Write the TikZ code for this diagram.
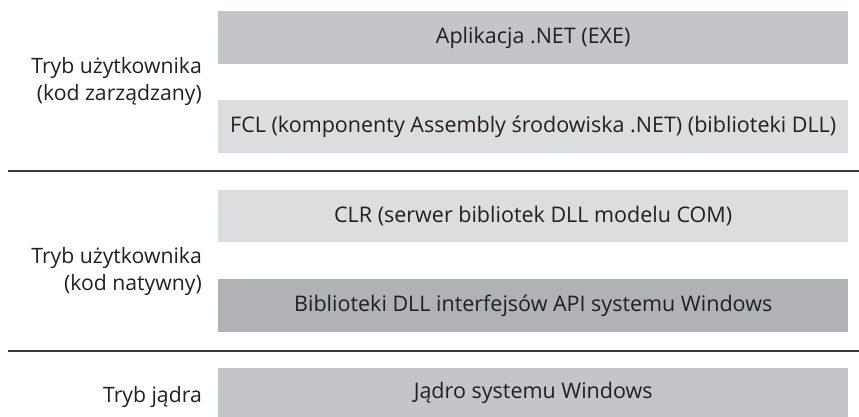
\documentclass[tikz,border=0pt]{standalone}
\usepackage{fontspec}
\setmainfont{Open Sans}
\definecolor{gmid}{HTML}{C4C5C8}
\definecolor{glight}{HTML}{DCDDDF}
\definecolor{gdark}{HTML}{B1B2B5}
\definecolor{txt}{HTML}{231F20}
\definecolor{sep}{HTML}{3A3A3C}
\tikzset{
  layer/.style={minimum width=630pt, inner sep=0pt, anchor=north west, text=txt, font=\fontsize{21.5}{25}\selectfont},
  lbl/.style={anchor=base east, inner sep=0pt, text=txt, font=\fontsize{21.2}{25}\selectfont},
  sepline/.style={draw=sep, line width=2pt}
}
\begin{document}
\begin{tikzpicture}[x=1pt,y=-1pt]
\useasboundingbox (0,0) rectangle (859,417);
\node[layer, fill=gmid, minimum height=53pt] (app) at (218,11) {Aplikacja .NET (EXE)};
\node[layer, fill=glight, minimum height=53pt] (fcl) at (218,100) {FCL (komponenty Assembly środowiska .NET) (biblioteki DLL)};
\node[layer, fill=glight, minimum height=52pt] (clr) at (218,190) {CLR (serwer bibliotek DLL modelu COM)};
\node[layer, fill=gdark, minimum height=53pt] (api) at (218,279) {Biblioteki DLL interfejsów API systemu Windows};
\node[layer, fill=gmid, minimum height=49pt] (krn) at (218,368) {Jądro systemu Windows};
\coordinate (l1a) at (8,171);
\coordinate (l1b) at (859,171);
\coordinate (l2a) at (8,351);
\coordinate (l2b) at (859,351);
\draw[sepline] (l1a) -- (l1b);
\draw[sepline] (l2a) -- (l2b);
\node[lbl] (m1) at (202,74) {Tryb użytkownika};
\node[lbl] (m2) at (202,101) {(kod zarządzany)};
\node[lbl] (n1) at (202,263) {Tryb użytkownika};
\node[lbl] (n2) at (202,290) {(kod natywny)};
\node[lbl] (k1) at (202,402) {Tryb jądra};
\end{tikzpicture}
\end{document}
